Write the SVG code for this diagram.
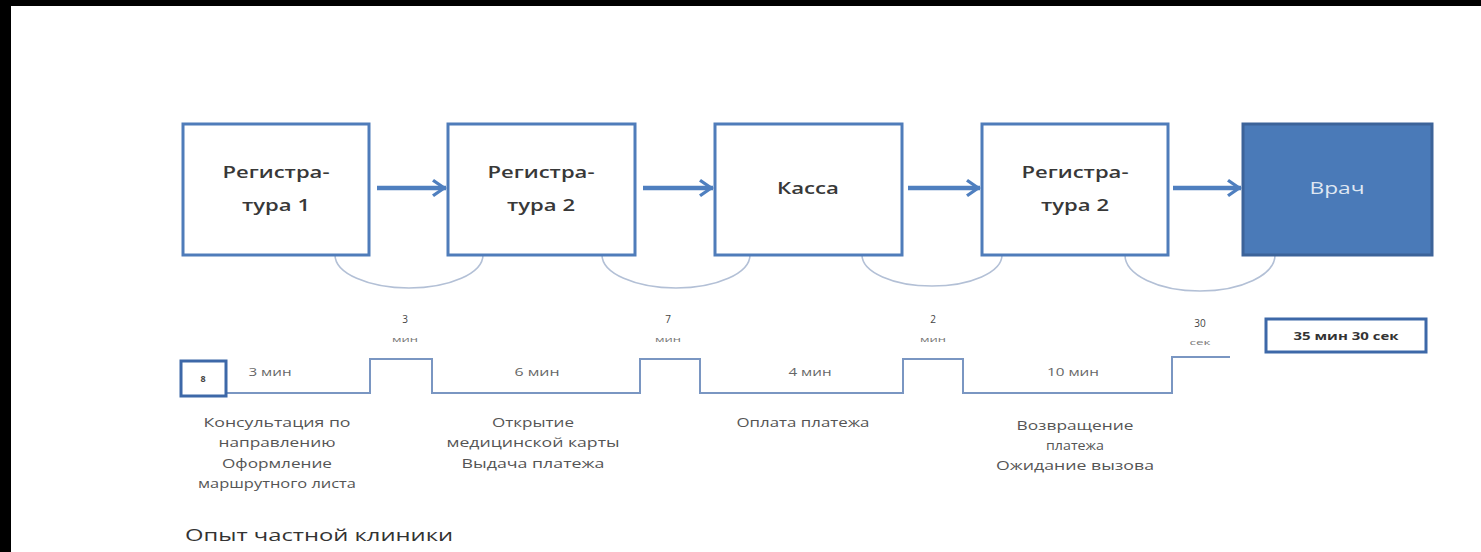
<svg xmlns="http://www.w3.org/2000/svg" width="1481" height="552" viewBox="0 0 1481 552">
<defs>
<marker id="ah" markerUnits="userSpaceOnUse" markerWidth="16" markerHeight="20" viewBox="0 0 16 20" refX="14" refY="10" orient="auto">
<path d="M2,1 L15,10 L2,19 L0,16.5 L9.5,10 L0,3.5 z" fill="#4f7fbf"/>
</marker>
<style>
.box{fill:#fff;stroke:#4f7cba;stroke-width:3}
.boxd{fill:#4a7ab8;stroke:#3c6399;stroke-width:3}
.bt{font-family:"Open Sans","DejaVu Sans",sans-serif;font-size:17px;font-weight:600;fill:#383838;text-anchor:middle}
.arr{stroke:#4f7fbf;stroke-width:4.5;fill:none}
.arc{stroke:#b3c0d6;stroke-width:1.6;fill:none}
.wave{stroke:#7a96c2;stroke-width:2;fill:none}
.sm{font-family:"Open Sans","DejaVu Sans",sans-serif;font-size:10px;fill:#666;text-anchor:middle}
.up{font-family:"Open Sans","DejaVu Sans",sans-serif;font-size:10px;fill:#444;text-anchor:middle}
.up2{font-family:"Open Sans","DejaVu Sans",sans-serif;font-size:7px;fill:#777;text-anchor:middle}
.lb{font-family:"Open Sans","DejaVu Sans",sans-serif;font-size:12.5px;fill:#555;text-anchor:middle}
</style>
</defs>
<rect x="0" y="0" width="1481" height="552" fill="#fff"/>
<rect x="0" y="0" width="1481" height="6" fill="#000"/>
<rect x="0" y="0" width="11" height="552" fill="#000"/>

<g id="connectors">
<line class="arr" x1="377" y1="188" x2="446" y2="188" marker-end="url(#ah)"/>
<line class="arr" x1="643" y1="188" x2="713" y2="188" marker-end="url(#ah)"/>
<line class="arr" x1="908" y1="188" x2="980" y2="188" marker-end="url(#ah)"/>
<line class="arr" x1="1173" y1="188" x2="1241" y2="188" marker-end="url(#ah)"/>
<path class="arc" d="M335,255 A74,33 0 0 0 483,255"/>
<path class="arc" d="M602,255 A74,33 0 0 0 750,255"/>
<path class="arc" d="M862,255 A70,31 0 0 0 1002,255"/>
<path class="arc" d="M1125,255 A75,36 0 0 0 1275,255"/>
</g>

<g id="node1">
<rect class="box" x="183" y="124" width="186" height="131"/>
<text class="bt" x="276" y="178" textLength="107" lengthAdjust="spacingAndGlyphs">Регистра-</text>
<text class="bt" x="276" y="211" textLength="68" lengthAdjust="spacingAndGlyphs">тура 1</text>
</g>
<g id="node2">
<rect class="box" x="448" y="124" width="187" height="131"/>
<text class="bt" x="541" y="178" textLength="107" lengthAdjust="spacingAndGlyphs">Регистра-</text>
<text class="bt" x="541" y="211" textLength="68" lengthAdjust="spacingAndGlyphs">тура 2</text>
</g>
<g id="node3">
<rect class="box" x="715" y="124" width="187" height="131"/>
<text class="bt" x="808" y="194" textLength="62" lengthAdjust="spacingAndGlyphs">Касса</text>
</g>
<g id="node4">
<rect class="box" x="982" y="124" width="186" height="131"/>
<text class="bt" x="1075" y="178" textLength="107" lengthAdjust="spacingAndGlyphs">Регистра-</text>
<text class="bt" x="1075" y="211" textLength="68" lengthAdjust="spacingAndGlyphs">тура 2</text>
</g>
<g id="node5">
<rect class="boxd" x="1243" y="124" width="189" height="131"/>
<text class="bt" x="1337" y="194" style="fill:#dfe7f2;font-weight:normal" textLength="55" lengthAdjust="spacingAndGlyphs">Врач</text>
</g>

<g id="timeline">
<path class="wave" d="M227,393 H370 V359 H432 V393 H640 V359 H700 V393 H903 V359 H963 V393 H1172 V357 H1230"/>
<rect x="181" y="361" width="45" height="35" fill="#fff" stroke="#3d68a8" stroke-width="3"/>
<text class="sm" x="203" y="382" style="font-weight:bold;font-size:9px;fill:#444">8</text>
<text class="sm" x="270" y="376" textLength="43" lengthAdjust="spacingAndGlyphs">3 мин</text>
<text class="sm" x="537" y="376" textLength="45" lengthAdjust="spacingAndGlyphs">6 мин</text>
<text class="sm" x="810" y="376" textLength="43" lengthAdjust="spacingAndGlyphs">4 мин</text>
<text class="sm" x="1073" y="376" textLength="52" lengthAdjust="spacingAndGlyphs">10 мин</text>
<text class="up" x="405" y="323">3</text>
<text class="up2" x="405" y="342" textLength="26" lengthAdjust="spacingAndGlyphs">мин</text>
<text class="up" x="668" y="323">7</text>
<text class="up2" x="668" y="342" textLength="26" lengthAdjust="spacingAndGlyphs">мин</text>
<text class="up" x="933" y="323">2</text>
<text class="up2" x="933" y="342" textLength="26" lengthAdjust="spacingAndGlyphs">мин</text>
<text class="up" x="1200" y="327">30</text>
<text class="up2" x="1200" y="345" textLength="21" lengthAdjust="spacingAndGlyphs">сек</text>
</g>

<g id="total">
<rect x="1266" y="319" width="160" height="33" fill="#fff" stroke="#3d68a8" stroke-width="3"/>
<text x="1346" y="340" style="font-family:'Open Sans','DejaVu Sans',sans-serif;font-size:11px;font-weight:bold;fill:#333;text-anchor:middle" textLength="105" lengthAdjust="spacingAndGlyphs">35 мин 30 сек</text>
</g>

<g id="labels">
<text class="lb" x="277" y="426.5" textLength="147" lengthAdjust="spacingAndGlyphs">Консультация по</text>
<text class="lb" x="277" y="447" textLength="117" lengthAdjust="spacingAndGlyphs">направлению</text>
<text class="lb" x="277" y="467.5" textLength="110" lengthAdjust="spacingAndGlyphs">Оформление</text>
<text class="lb" x="277" y="487.5" textLength="158" lengthAdjust="spacingAndGlyphs">маршрутного листа</text>
<text class="lb" x="533" y="426.5" textLength="82" lengthAdjust="spacingAndGlyphs">Открытие</text>
<text class="lb" x="533" y="447" textLength="173" lengthAdjust="spacingAndGlyphs">медицинской карты</text>
<text class="lb" x="533" y="467.5" textLength="143" lengthAdjust="spacingAndGlyphs">Выдача платежа</text>
<text class="lb" x="803" y="426.5" textLength="133" lengthAdjust="spacingAndGlyphs">Оплата платежа</text>
<text class="lb" x="1075" y="429.5" textLength="117" lengthAdjust="spacingAndGlyphs">Возвращение</text>
<text class="lb" x="1075" y="449.5" textLength="58" lengthAdjust="spacingAndGlyphs">платежа</text>
<text class="lb" x="1075" y="469.5" textLength="158" lengthAdjust="spacingAndGlyphs">Ожидание вызова</text>
<text x="185" y="541" style="font-family:'Open Sans','DejaVu Sans',sans-serif;font-size:16px;fill:#333" textLength="268" lengthAdjust="spacingAndGlyphs">Опыт частной клиники</text>
</g>
</svg>
